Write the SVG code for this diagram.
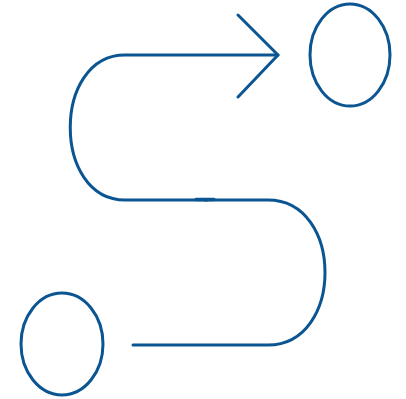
<svg xmlns="http://www.w3.org/2000/svg" width="406" height="399" viewBox="0 0 406 399">
<style>
.s{fill:none;stroke:#0b5592;stroke-width:3;stroke-linecap:round;stroke-linejoin:round}
</style>
<rect width="406" height="399" fill="#ffffff"/>
<g id="connectors">
<path class="s" d="M133,345 L268,345 C344,345 344,200 268,200 L205,200"/>
<path class="s" d="M207,200 L125,200 C52,200 52,55 125,55 L278,55"/>
<path class="s" d="M196,199.5 L214,199.5" style="stroke-width:3.5"/>
<path class="s" d="M238,15 L278,55 L238,97"/>
</g>
<g id="end-node">
<ellipse class="s" cx="350" cy="55" rx="40" ry="51"/>
</g>
<g id="start-node">
<ellipse class="s" cx="62" cy="344" rx="41" ry="51"/>
</g>
</svg>
